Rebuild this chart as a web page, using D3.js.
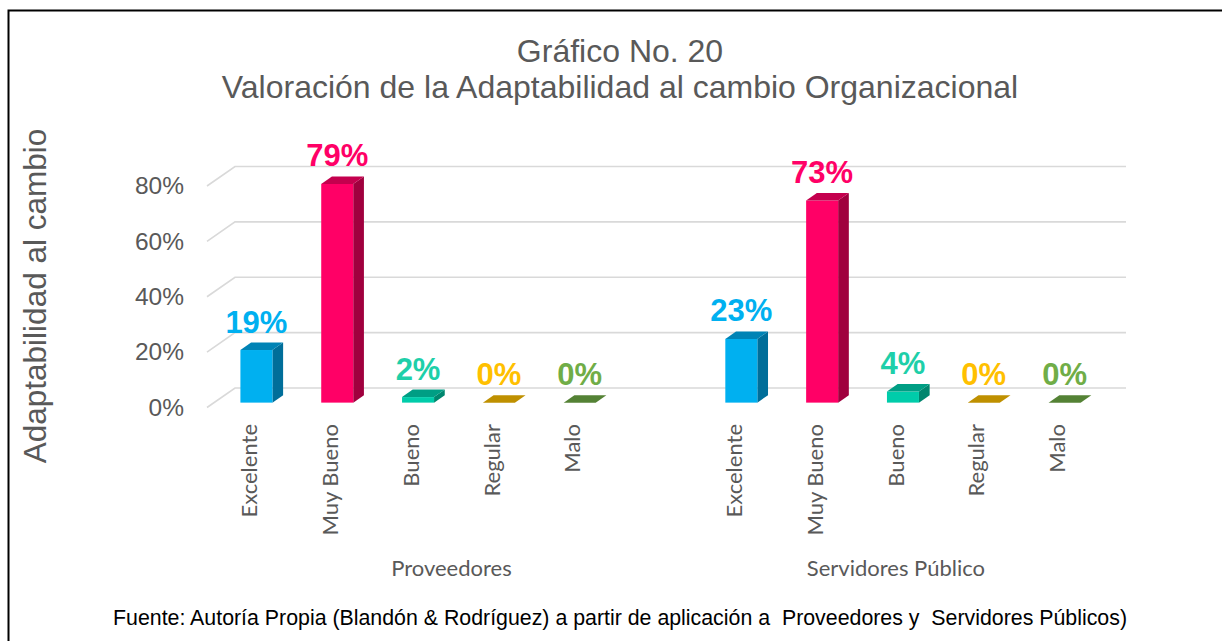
<!DOCTYPE html>
<html>
<head>
<meta charset="utf-8">
<script src="https://cdn.jsdelivr.net/npm/d3@7"></script>
<style>
  body { margin: 0; background: #fff; }
  svg { display: block; }
</style>
</head>
<body>
<div id="chart"></div>
<script>
// data
const groups = ["Proveedores", "Servidores Público"];
const categories = ["Excelente", "Muy Bueno", "Bueno", "Regular", "Malo"];
const proveedores = [0.19, 0.79, 0.02, 0, 0];
const servidores = [0.23, 0.73, 0.04, 0, 0];
const yTicks = [0, 0.2, 0.4, 0.6, 0.8];

// colours per category: front face, top face, side face, label
const frontColors = ["#00B0F0", "#FF0066", "#00CCAA", "#BF9000", "#548235"];
const topColors   = ["#0083B5", "#C4004E", "#009E84", "#BF9000", "#548235"];
const sideColors  = ["#006E9A", "#A0003E", "#00866E", "#9A7400", "#3F6428"];
const labelColors = ["#00B0F0", "#FF0066", "#1ECFA9", "#FFC000", "#70AD47"];

const width = 1222, height = 641;
const textGray = "#595959";

// 3D geometry of the plot box
const wallDX = 28, wallDY = -19.5;     // front plane -> back wall
const barShift = 0.25;                 // bars sit a quarter into the depth
const barDX = 10.7, barDY = -7.5;      // bar depth
const barW = 32;

const svg = d3.select("#chart").append("svg")
  .attr("width", width)
  .attr("height", height);

// outer frame
svg.append("rect")
  .attr("x", 8.5).attr("y", 10.5)
  .attr("width", width).attr("height", height)
  .attr("fill", "none").attr("stroke", "#000").attr("stroke-width", 2);

// build slots: 5 + 1 empty for the first group, 5 for the second
const rows = [];
categories.forEach((c, i) => rows.push({ group: 0, cat: i, key: "P-" + c, value: proveedores[i] }));
const gapKey = "P-gap";
categories.forEach((c, i) => rows.push({ group: 1, cat: i, key: "S-" + c, value: servidores[i] }));
const slots = rows.slice(0, 5).map(d => d.key).concat([gapKey], rows.slice(5).map(d => d.key));

const x = d3.scaleBand().domain(slots).range([209, 1098]);
const y = d3.scaleLinear().domain([0, 0.8]).range([407.5, 186]);

const wallX0 = 207, wallX1 = x.range()[1];

// gridlines: side-wall diagonal + back-wall line
const grid = svg.append("g").attr("stroke", "#D9D9D9").attr("stroke-width", 1.6).attr("fill", "none");
yTicks.forEach(t => {
  grid.append("path")
    .attr("d", `M${wallX0},${y(t)} L${wallX0 + wallDX},${y(t) + wallDY} L${wallX1 + wallDX},${y(t) + wallDY}`);
});

// y tick labels
const yAxis = d3.axisLeft(y).tickValues(yTicks).tickFormat(d3.format(".0%")).tickSize(0).tickPadding(0);
const yAxisG = svg.append("g")
  .attr("transform", "translate(184,0)")
  .call(yAxis);
yAxisG.select(".domain").remove();
yAxisG.selectAll("text")
  .attr("fill", textGray)
  .style("font-family", "'Liberation Sans', Arial, sans-serif")
  .style("font-size", "24.5px");

// bars
const sx = barShift * wallDX, sy = barShift * wallDY;
const bars = svg.append("g");
rows.forEach(d => {
  const cx = x(d.key) + x.bandwidth() / 2 + sx;
  const x0 = cx - barW / 2, x1 = cx + barW / 2;
  const yb = y(0) + sy, yt = y(d.value) + sy;
  const g = bars.append("g");
  if (d.value > 0) {
    // side
    g.append("path")
      .attr("d", `M${x1},${yb} L${x1 + barDX},${yb + barDY} L${x1 + barDX},${yt + barDY} L${x1},${yt} Z`)
      .attr("fill", sideColors[d.cat]);
    // front
    g.append("rect")
      .attr("x", x0).attr("y", yt)
      .attr("width", barW).attr("height", yb - yt)
      .attr("fill", frontColors[d.cat]);
  }
  // top
  g.append("path")
    .attr("d", `M${x0},${yt} L${x1},${yt} L${x1 + barDX},${yt + barDY} L${x0 + barDX},${yt + barDY} Z`)
    .attr("fill", topColors[d.cat]);

  // value label
  svg.append("text")
    .attr("x", cx)
    .attr("y", yt + barDY - 10)
    .attr("text-anchor", "middle")
    .attr("fill", labelColors[d.cat])
    .style("font-family", "'Liberation Sans', Arial, sans-serif")
    .style("font-weight", "bold")
    .style("font-size", "31px")
    .text(d3.format(".0%")(d.value));
});

// category labels (rotated)
rows.forEach(d => {
  const cx = x(d.key) + x.bandwidth() / 2;
  svg.append("text")
    .attr("transform", `translate(${cx},424) rotate(-90)`)
    .attr("text-anchor", "end")
    .attr("dy", "0.35em")
    .attr("fill", textGray)
    .style("font-family", "Lato, 'Open Sans', sans-serif")
    .style("font-size", "22px")
    .text(categories[d.cat]);
});

// group labels
const groupSpans = [[slots[0], gapKey], [slots[6], slots[10]]];
groups.forEach((gName, i) => {
  const gx = (x(groupSpans[i][0]) + x(groupSpans[i][1]) + x.bandwidth()) / 2;
  svg.append("text")
    .attr("x", gx).attr("y", 576)
    .attr("text-anchor", "middle")
    .attr("fill", textGray)
    .style("font-family", "Lato, 'Open Sans', sans-serif")
    .style("font-size", "22px")
    .text(gName);
});

// y-axis title
svg.append("text")
  .attr("transform", "translate(35,296) rotate(-90)")
  .attr("text-anchor", "middle")
  .attr("dy", "0.35em")
  .attr("fill", textGray)
  .style("font-family", "'Liberation Sans', Arial, sans-serif")
  .style("font-size", "31.5px")
  .text("Adaptabilidad al cambio");

// title
const title = svg.append("text")
  .attr("text-anchor", "middle")
  .attr("fill", textGray)
  .style("font-family", "'Liberation Sans', Arial, sans-serif")
  .style("font-size", "32px");
title.append("tspan").attr("x", 620).attr("y", 62).text("Gráfico No. 20");
title.append("tspan").attr("x", 620).attr("y", 98).text("Valoración de la Adaptabilidad al cambio Organizacional");

// footer
svg.append("text")
  .attr("x", 113).attr("y", 625)
  .attr("textLength", 1014)
  .attr("lengthAdjust", "spacingAndGlyphs")
  .attr("fill", "#000")
  .style("white-space", "pre")
  .style("font-family", "'Liberation Sans Narrow', 'Liberation Sans', Arial, sans-serif")
  .style("font-size", "22px")
  .text("Fuente: Autoría Propia (Blandón & Rodríguez) a partir de aplicación a  Proveedores y  Servidores Públicos)");
</script>
</body>
</html>
